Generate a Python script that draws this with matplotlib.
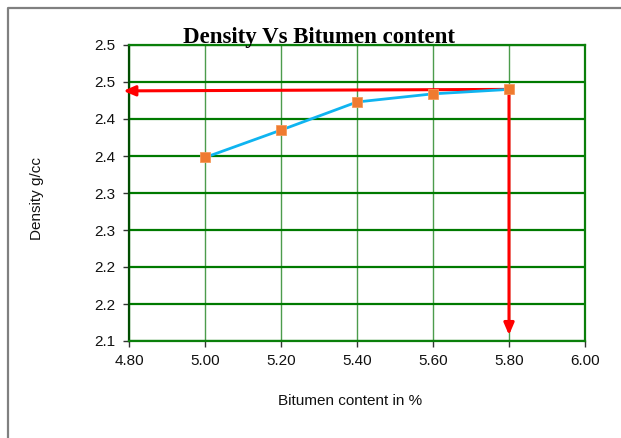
import matplotlib
matplotlib.use('Agg')
import matplotlib.pyplot as plt
from matplotlib.lines import Line2D

# data
bitumen = [5.0, 5.2, 5.4, 5.6, 5.8]
density = [2.348, 2.385, 2.423, 2.434, 2.440]

xticks = [4.8, 5.0, 5.2, 5.4, 5.6, 5.8, 6.0]
xtick_labels = ['4.80', '5.00', '5.20', '5.40', '5.60', '5.80', '6.00']
yticks = [2.10, 2.15, 2.20, 2.25, 2.30, 2.35, 2.40, 2.45, 2.50]
ytick_labels = ['2.1', '2.2', '2.2', '2.3', '2.3', '2.4', '2.4', '2.5', '2.5']

# optimum bitumen content read-off arrows
opt_x = 5.8
opt_y = 2.440
read_y = 2.438
read_x_end = 4.785
read_y_end = 2.108

W, H = 621, 438
fig = plt.figure(figsize=(W / 100, H / 100), dpi=100)
fig.patch.set_facecolor('white')

# chart area border (only top and left visible)
fig.add_artist(Line2D([8 / W, 8 / W, 1.0], [0.0, 1 - 7.5 / H, 1 - 7.5 / H],
                      transform=fig.transFigure, color='#808080', lw=1.6))

ax = fig.add_axes([129 / W, 1 - 341 / H, 456 / W, 296 / H])

ax.set_xlim(4.8, 6.0)
ax.set_ylim(2.1, 2.5)
ax.set_xticks(xticks)
ax.set_xticklabels(xtick_labels)
ax.set_yticks(yticks)
ax.set_yticklabels(ytick_labels)

ax.grid(axis='y', color='#007a00', lw=1.6, zorder=1)
ax.grid(axis='x', color='#4c9c4c', lw=1.0, zorder=1)
for s in ['top', 'right', 'bottom']:
    ax.spines[s].set_color('#0a7f0a')
    ax.spines[s].set_linewidth(1.6)
ax.spines['left'].set_color('#004d00')
ax.spines['left'].set_linewidth(1.6)

ax.tick_params(axis='both', direction='out', length=4, width=1, color='#333333',
               labelsize=11, labelcolor='#111111')
ax.tick_params(axis='x', pad=5.5)
ax.tick_params(axis='y', pad=6)
for lbl in ax.get_xticklabels() + ax.get_yticklabels():
    lbl.set_family('Liberation Sans')

# red read-off arrows
ax.annotate('', xy=(read_x_end, read_y), xytext=(opt_x, opt_y),
            arrowprops=dict(arrowstyle='-|>,head_length=0.7,head_width=0.3',
                            color='#ff0000', lw=2.2, shrinkA=0, shrinkB=0),
            annotation_clip=False, zorder=3)
ax.annotate('', xy=(opt_x, read_y_end), xytext=(opt_x, opt_y),
            arrowprops=dict(arrowstyle='-|>,head_length=0.7,head_width=0.3',
                            color='#ff0000', lw=2.2, shrinkA=0, shrinkB=0),
            annotation_clip=False, zorder=3)

ax.plot(bitumen, density, color='#0fb4f0', lw=2, zorder=4)
ax.plot(bitumen, density, ls='none', marker='s', markersize=7.5,
        markerfacecolor='#ef7b30', markeredgecolor='#f59a5a', markeredgewidth=0.6,
        zorder=5)

fig.text(319 / W, 1 - 43 / H, 'Density Vs Bitumen content', ha='center', va='baseline',
         family='Liberation Serif', fontweight='bold', fontsize=16.5, color='black',
         zorder=10)
fig.text(350 / W, 1 - 401 / H, 'Bitumen content in %', ha='center', va='center',
         family='Liberation Sans', fontsize=11, color='#111111')
fig.text(37 / W, 1 - 199 / H, 'Density g/cc', ha='center', va='center', rotation=90,
         family='Liberation Sans', fontsize=11, color='#111111')

fig.savefig('out.png', dpi=100)
